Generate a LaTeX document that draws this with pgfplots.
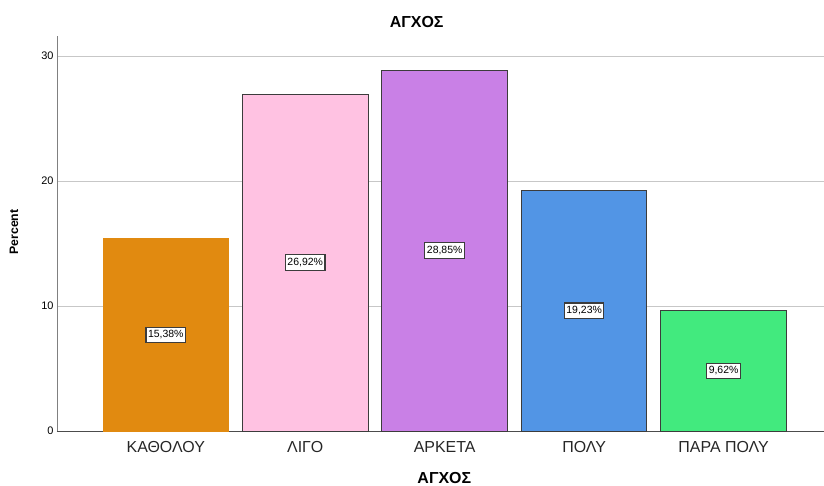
\documentclass[border=0pt]{standalone}
\usepackage{pgfplots}
\pgfplotsset{compat=1.18}
\usepackage{fontspec}
\setmainfont{Liberation Sans}

\definecolor{barOrange}{RGB}{225,138,16}
\definecolor{barPink}{RGB}{255,194,226}
\definecolor{barPurple}{RGB}{201,128,230}
\definecolor{barBlue}{RGB}{82,149,229}
\definecolor{barGreen}{RGB}{66,234,126}
\definecolor{barEdge}{RGB}{60,60,60}

\pgfplotsset{
  pct label/.style={
    nodes near coords={\pgfmathprintnumber[fixed,fixed zerofill,precision=2,use comma]{\pgfplotspointmeta}\%},
    point meta=y,
    visualization depends on={rawy \as \rawy},
    every node near coord/.append style={
      anchor=center, fill=white, draw=barEdge, line width=1.1bp,
      inner xsep=2bp, inner ysep=3.5bp, text=black, font=\fontsize{10.5}{11}\selectfont,
      shift={(axis direction cs:0,-\rawy/2)}},
  },
}

\begin{document}
\begin{tikzpicture}
\begin{axis}[
  scale only axis,
  width=767bp, height=395bp,
  xmin=-0.78, xmax=4.72,
  ymin=0, ymax=31.6,
  axis lines*=left,
  x axis line style={draw=black!70, line width=0.8bp},
  y axis line style={draw=black!50, line width=0.8bp},
  ytick={0,10,20,30},
  ymajorgrids,
  grid style={draw=black!22, line width=0.9bp},
  xtick={0,1,2,3,4},
  xticklabels={ΚΑΘΟΛΟΥ,ΛΙΓΟ,ΑΡΚΕΤΑ,ΠΟΛΥ,ΠΑΡΑ ΠΟΛΥ},
  major tick length=0pt,
  /pgf/number format/assume math mode=true,
  xticklabel style={anchor=center, yshift=-16bp, font=\fontsize{16}{17}\selectfont, text=black!85},
  yticklabel style={font=\fontsize{11}{12}\selectfont, text=black},
  title={ΑΓΧΟΣ},
  title style={at={(0.469,1)}, anchor=center, yshift=8bp, font=\bfseries\fontsize{16}{17}\selectfont},
  xlabel={ΑΓΧΟΣ},
  xlabel style={at={(0.505,0)}, anchor=center, yshift=-47bp, font=\bfseries\fontsize{16}{17}\selectfont},
  ylabel={Percent},
  ylabel style={at={(axis description cs:-0.056,0.504)}, anchor=center, font=\bfseries\fontsize{12.3}{13}\selectfont},
  every axis plot/.append style={ybar, bar width=0.9, bar shift=0pt, line width=0.9bp},
]
\addplot[fill=barOrange, draw=barOrange, pct label] coordinates {(0,15.38)};
\addplot[fill=barPink, draw=barEdge, pct label] coordinates {(1,26.92)};
\addplot[fill=barPurple, draw=barEdge, pct label] coordinates {(2,28.85)};
\addplot[fill=barBlue, draw=barEdge, pct label] coordinates {(3,19.23)};
\addplot[fill=barGreen, draw=barEdge, pct label] coordinates {(4,9.62)};
\end{axis}
\pgfresetboundingbox
\path (-57bp,-55bp) rectangle (767bp,431bp);
\end{tikzpicture}
\end{document}
